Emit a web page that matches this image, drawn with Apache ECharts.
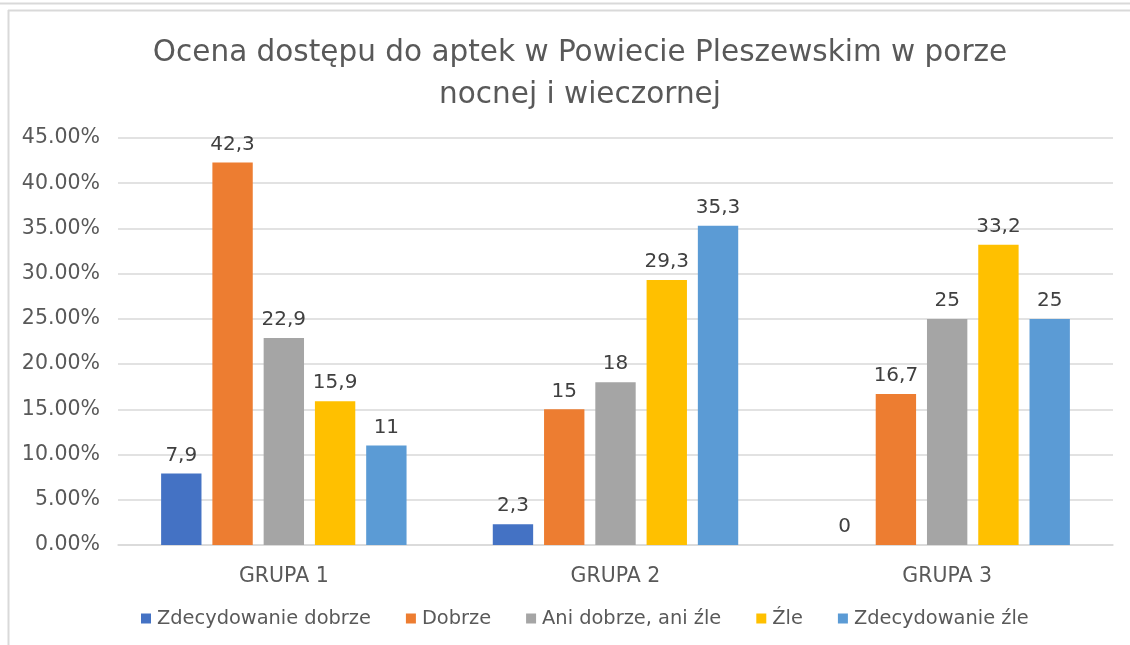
<!DOCTYPE html>
<html>
<head>
<meta charset="utf-8">
<script src="https://cdn.jsdelivr.net/npm/echarts@6/dist/echarts.min.js"></script>
<style>
  html, body { margin: 0; padding: 0; background: #fff; }
  #chart { width: 1130px; height: 645px; }
</style>
</head>
<body>
<div id="chart"></div>
<script>
// Groups on the x axis
const categories = ['GRUPA 1', 'GRUPA 2', 'GRUPA 3'];

// Answer shares in percent, one array per answer
const zdecydowanieDobrze = [7.9, 2.3, 0];
const dobrze = [42.3, 15, 16.7];
const aniDobrzeAniZle = [22.9, 18, 25];
const zle = [15.9, 29.3, 33.2];
const zdecydowanieZle = [11, 35.3, 25];

const seriesNames = ['Zdecydowanie dobrze', 'Dobrze', 'Ani dobrze, ani źle', 'Źle', 'Zdecydowanie źle'];
const seriesValues = [zdecydowanieDobrze, dobrze, aniDobrzeAniZle, zle, zdecydowanieZle];
const seriesColors = ['#4472C4', '#ED7D31', '#A5A5A5', '#FFC000', '#5B9BD5'];

const FONT = '"DejaVu Sans", sans-serif';

const chart = echarts.init(document.getElementById('chart'), null, { renderer: 'canvas' });

chart.setOption({
  animation: false,
  backgroundColor: '#ffffff',
  textStyle: { fontFamily: FONT },
  title: {
    text: 'Ocena dostępu do aptek w Powiecie Pleszewskim w porze\nnocnej i wieczornej',
    left: 575,
    top: 27,
    textAlign: 'center',
    textStyle: {
      fontFamily: FONT,
      fontSize: 29.5,
      fontWeight: 'normal',
      color: '#595959',
      lineHeight: 42
    }
  },
  legend: {
    data: seriesNames,
    left: 136,
    top: 604,
    itemWidth: 10,
    itemHeight: 10,
    itemGap: 35,
    icon: 'rect',
    textStyle: { fontFamily: FONT, fontSize: 19.4, color: '#595959', padding: [0, 0, 0, 1] }
  },
  grid: { left: 118, right: 17, top: 138, bottom: 100, containLabel: false },
  xAxis: {
    type: 'category',
    data: categories,
    axisLine: { show: true, lineStyle: { color: '#d9d9d9', width: 1.5 } },
    axisTick: { show: false },
    axisLabel: { fontFamily: FONT, fontSize: 20.5, color: '#595959', margin: 21 }
  },
  yAxis: {
    type: 'value',
    min: 0,
    max: 45,
    interval: 5,
    axisLine: { show: false },
    axisTick: { show: false },
    splitLine: { lineStyle: { color: '#d9d9d9', width: 1.5 } },
    axisLabel: {
      fontFamily: FONT,
      fontSize: 20.5,
      color: '#595959',
      margin: 18,
      formatter: v => v.toFixed(2) + '%'
    }
  },
  series: seriesNames.map((name, i) => ({
    name,
    type: 'bar',
    data: seriesValues[i],
    barGap: '27%',
    barCategoryGap: '26%',
    itemStyle: { color: seriesColors[i] },
    label: {
      show: true,
      position: 'top',
      distance: 8,
      fontFamily: FONT,
      fontSize: 20,
      color: '#404040',
      formatter: p => String(p.value).replace('.', ',')
    }
  })),
  graphic: [
    { type: 'line', silent: true, shape: { x1: 0, y1: 3.5, x2: 1130, y2: 3.5 }, style: { stroke: '#d9d9d9', lineWidth: 2 } },
    { type: 'line', silent: true, shape: { x1: 8, y1: 10.5, x2: 1130, y2: 10.5 }, style: { stroke: '#d9d9d9', lineWidth: 2 } },
    { type: 'line', silent: true, shape: { x1: 8.5, y1: 10, x2: 8.5, y2: 645 }, style: { stroke: '#d9d9d9', lineWidth: 2 } }
  ]
});
</script>
</body>
</html>
